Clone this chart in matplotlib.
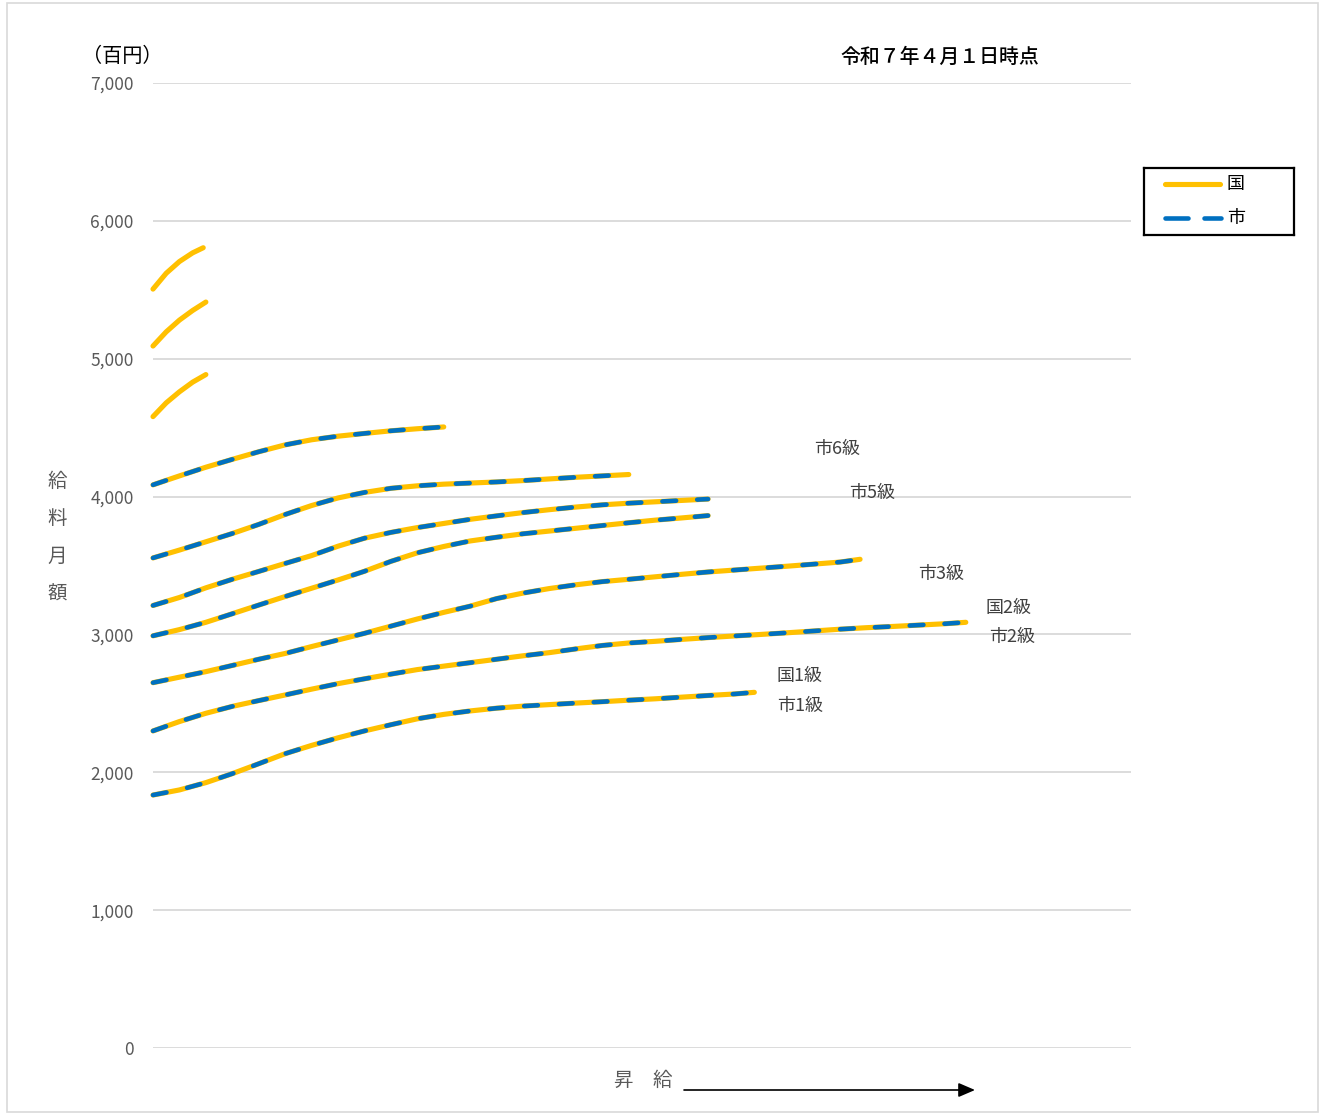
import matplotlib
matplotlib.use("Agg")
import matplotlib.pyplot as plt
from matplotlib.patches import Rectangle, FancyArrowPatch
from matplotlib.lines import Line2D
from matplotlib.ticker import FuncFormatter

plt.rcParams['font.family'] = ['Noto Sans CJK JP', 'DejaVu Sans']

# ---- data (step index along 昇給 axis, monthly pay in 百円) ----
steps_1 = [0, 4, 8, 12, 16, 20, 24, 28, 32, 36, 40, 44, 48, 52, 56, 60, 64, 68, 72, 76, 80, 84, 88, 91]
grade_1 = [1835, 1872, 1925, 1990, 2062, 2135, 2195, 2250, 2300, 2345, 2388, 2420, 2445, 2465, 2480, 2491,
           2502, 2512, 2523, 2533, 2545, 2557, 2568, 2580]

steps_2 = [0, 4, 8, 12, 16, 20, 24, 28, 32, 36, 40, 44, 48, 52, 56, 60, 64, 68, 72, 76, 80, 84, 88, 92,
           96, 100, 104, 108, 112, 116, 120, 123]
grade_2 = [2300, 2368, 2428, 2478, 2520, 2561, 2603, 2643, 2678, 2712, 2745, 2770, 2795, 2820, 2845, 2868,
           2895, 2920, 2938, 2950, 2964, 2977, 2989, 3000, 3012, 3025, 3038, 3049, 3058, 3068, 3078, 3088]

steps_3 = [0, 4, 8, 12, 16, 20, 24, 28, 32, 36, 40, 44, 48, 52, 56, 60, 64, 68, 72, 76, 80, 84, 88, 92,
           96, 100, 104, 107]
grade_3 = [2650, 2690, 2730, 2775, 2820, 2862, 2912, 2960, 3008, 3060, 3112, 3160, 3205, 3260, 3300, 3333,
           3360, 3383, 3400, 3418, 3436, 3453, 3467, 3481, 3495, 3510, 3525, 3545]

steps_4 = [0, 4, 8, 12, 16, 20, 24, 28, 32, 36, 40, 44, 48, 52, 56, 60, 64, 68, 72, 76, 80, 84]
grade_4 = [2990, 3035, 3088, 3150, 3213, 3275, 3335, 3395, 3458, 3530, 3592, 3638, 3678, 3705, 3730, 3750,
           3770, 3790, 3810, 3829, 3845, 3862]

steps_5 = [0, 4, 8, 12, 16, 20, 24, 28, 32, 36, 40, 44, 48, 52, 56, 60, 64, 68, 72, 76, 80, 84]
grade_5 = [3210, 3268, 3338, 3400, 3457, 3515, 3572, 3640, 3698, 3740, 3775, 3805, 3835, 3860, 3884, 3905,
           3924, 3940, 3952, 3962, 3972, 3982]

steps_6 = [0, 4, 8, 12, 16, 20, 24, 28, 32, 36, 40, 44, 48, 52, 56, 60, 64, 68, 72]
grade_6 = [3555, 3612, 3672, 3732, 3798, 3870, 3935, 3990, 4030, 4060, 4078, 4090, 4098, 4106, 4116, 4128,
           4140, 4150, 4160]

steps_7 = [0, 4, 8, 12, 16, 20, 24, 28, 32, 36, 40, 44]
grade_7 = [4085, 4150, 4213, 4270, 4325, 4375, 4412, 4438, 4458, 4477, 4492, 4505]

steps_8 = [0, 2, 4, 6, 8]
grade_8 = [4580, 4680, 4760, 4830, 4885]

steps_9 = [0, 2, 4, 6, 8]
grade_9 = [5092, 5195, 5280, 5350, 5411]

steps_10 = [0, 2, 4, 6, 7.6]
grade_10 = [5505, 5620, 5705, 5768, 5805]

national = [(steps_1, grade_1), (steps_2, grade_2), (steps_3, grade_3), (steps_4, grade_4),
            (steps_5, grade_5), (steps_6, grade_6), (steps_7, grade_7), (steps_8, grade_8),
            (steps_9, grade_9), (steps_10, grade_10)]
city = [(steps_1, grade_1), (steps_2, grade_2), (steps_3, grade_3), (steps_4, grade_4),
        (steps_5, grade_5), (steps_6, grade_6), (steps_7, grade_7)]

y_ticks = [0, 1000, 2000, 3000, 4000, 5000, 6000, 7000]

label_texts = ['市6級', '市5級', '市3級', '国2級', '市2級', '国1級', '市1級']
label_x = [103.5, 108.8, 119.2, 129.5, 130.0, 97.9, 97.9]
label_y = [4345, 4026, 3438, 3192, 2981, 2698, 2481]

YELLOW = '#FFC000'
BLUE = '#0070C0'
W, H = 1324, 1115

fig = plt.figure(figsize=(W / 100, H / 100), dpi=100)
fig.patch.set_facecolor('white')

# outer chart border
fig.add_artist(Rectangle((7 / W, 3 / H), 1311 / W, 1109 / H, transform=fig.transFigure,
                         facecolor='none', edgecolor='#D9D9D9', lw=1.2))

ax = fig.add_axes([153 / W, 1 - 1048 / H, (1131 - 153) / W, (1048 - 83) / H])
ax.set_xlim(0, 148)
ax.set_ylim(0, 7000)
for s in ax.spines.values():
    s.set_visible(False)
ax.set_xticks([])
ax.set_yticks(y_ticks)
ax.yaxis.set_major_formatter(FuncFormatter(lambda v, p: f"{int(v):,}"))
ax.tick_params(axis='y', length=0, pad=14, labelsize=12.5, labelcolor='#595959')
ax.grid(axis='y', color='#D9D9D9', lw=1.3)
ax.set_axisbelow(True)

for xs, ys in national:
    ax.plot(xs, ys, color=YELLOW, lw=3.7, solid_capstyle='round', solid_joinstyle='round',
            zorder=3, clip_on=False)
for xs, ys in city:
    ax.plot(xs, ys, color=BLUE, lw=3.3, dashes=(3.0, 4.6), dash_capstyle='round',
            dash_joinstyle='round', zorder=4, clip_on=False)

for t, x, y in zip(label_texts, label_x, label_y):
    ax.text(x, y, t, ha='center', va='center', fontsize=13, color='#404040')

# headers
fig.text(122 / W, 1 - 57 / H, '（百円）', ha='center', va='center', fontsize=14.5, color='black')
fig.text(940 / W, 1 - 57 / H, '令和７年４月１日時点', ha='center', va='center', fontsize=14.3,
         color='black', fontweight='medium')

# vertical y-label
for i, ch in enumerate('給料月額'):
    fig.text(57 / W, 1 - (481 + 37.7 * i) / H, ch, ha='center', va='center', fontsize=14, color='#595959')

# x-label and arrow
fig.text(643 / W, 1 - 1080 / H, '昇　給', ha='center', va='center', fontsize=14, color='#595959')
fig.add_artist(FancyArrowPatch((684 / W, 1 - 1090 / H), (975 / W, 1 - 1090 / H),
                               transform=fig.transFigure, arrowstyle='-|>,head_length=10,head_width=4.3',
                               mutation_scale=1.0, color='black', lw=1.2, shrinkA=0, shrinkB=0))

# legend
lax = fig.add_axes([1144 / W, 1 - 235 / H, 150 / W, 67 / H])
lax.set_xlim(1144, 1294)
lax.set_ylim(235, 168)
lax.set_xticks([])
lax.set_yticks([])
for s in lax.spines.values():
    s.set_color('black')
    s.set_linewidth(1.6)
lax.add_line(Line2D([1165, 1220], [184, 184], color=YELLOW, lw=3.7, solid_capstyle='round'))
lax.add_line(Line2D([1165, 1188], [218, 218], color=BLUE, lw=3.3, solid_capstyle='round'))
lax.add_line(Line2D([1204, 1221], [218, 218], color=BLUE, lw=3.3, solid_capstyle='round'))
lax.text(1236, 184, '国', ha='center', va='center', fontsize=13, color='black')
lax.text(1236, 218, '市', ha='center', va='center', fontsize=13, color='black')

fig.savefig('out.png', dpi=100, facecolor='white')
